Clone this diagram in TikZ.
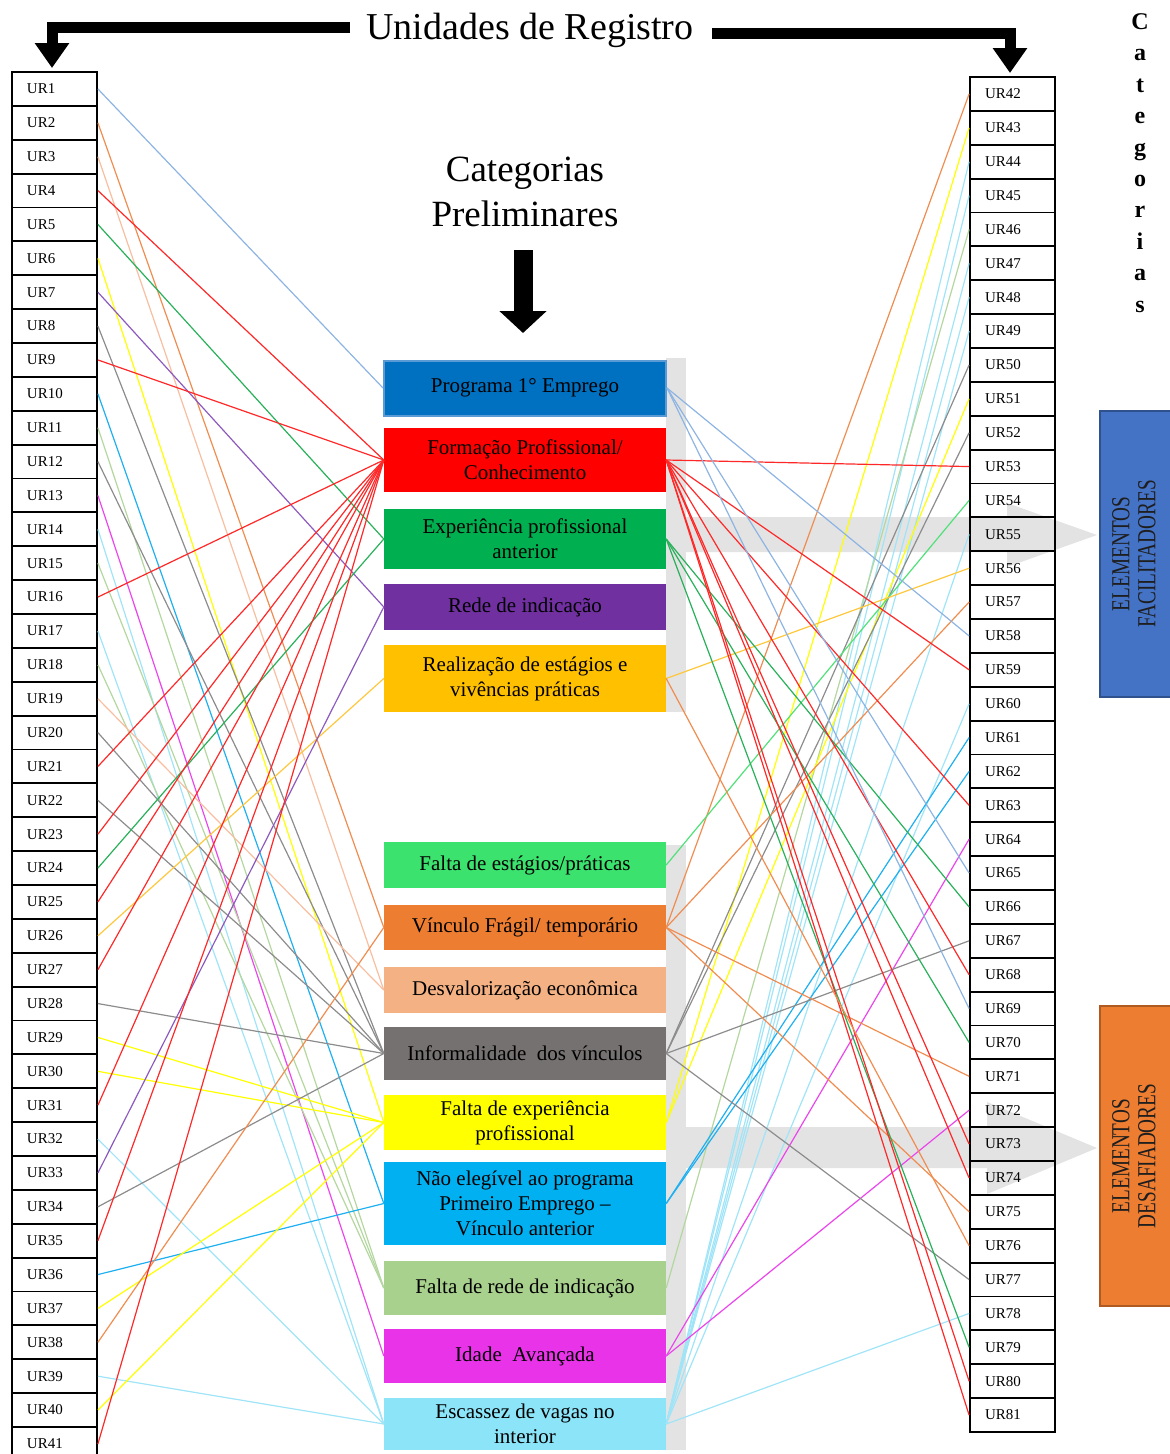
\documentclass[tikz,border=0pt]{standalone}
\usepackage{fontspec}
\setmainfont{Liberation Serif}
\newfontfamily\condfont[FakeStretch=0.74]{Liberation Serif}
\usetikzlibrary{arrows.meta}
\definecolor{f1}{RGB}{0,112,192}
\definecolor{b1}{RGB}{91,155,213}
\definecolor{f2}{RGB}{255,0,0}
\definecolor{f3}{RGB}{0,176,80}
\definecolor{f4}{RGB}{112,48,160}
\definecolor{f5}{RGB}{255,192,0}
\definecolor{f6}{RGB}{59,226,110}
\definecolor{f7}{RGB}{237,125,49}
\definecolor{f8}{RGB}{244,177,131}
\definecolor{f9}{RGB}{118,113,113}
\definecolor{f10}{RGB}{255,255,0}
\definecolor{f11}{RGB}{0,176,240}
\definecolor{f12}{RGB}{169,209,142}
\definecolor{f13}{RGB}{233,51,233}
\definecolor{f14}{RGB}{140,228,248}
\definecolor{l1}{RGB}{141,180,226}
\definecolor{l2}{RGB}{255,40,40}
\definecolor{l3}{RGB}{40,176,90}
\definecolor{l4}{RGB}{140,90,190}
\definecolor{l5}{RGB}{255,200,60}
\definecolor{l6}{RGB}{80,225,120}
\definecolor{l7}{RGB}{240,140,80}
\definecolor{l8}{RGB}{248,190,160}
\definecolor{l9}{RGB}{140,140,140}
\definecolor{l10}{RGB}{255,255,0}
\definecolor{l11}{RGB}{30,176,240}
\definecolor{l12}{RGB}{180,215,160}
\definecolor{l13}{RGB}{235,70,235}
\definecolor{l14}{RGB}{160,228,248}
\definecolor{bandgray}{RGB}{227,227,227}
\definecolor{facfill}{RGB}{68,114,196}
\definecolor{facdraw}{RGB}{47,82,143}
\definecolor{desfill}{RGB}{237,125,49}
\definecolor{desdraw}{RGB}{174,90,33}
\definecolor{eltxt}{RGB}{30,30,30}
\tikzset{
  urbox/.style={draw=black, line width=1.8pt, minimum width=85pt, minimum height=33.875pt,
    inner xsep=15pt, inner ysep=0pt, text width=55pt, align=left,
    font=\fontsize{15}{15}\selectfont},
  catbox/.style={minimum width=282pt, inner sep=0pt, align=center,
    font=\fontsize{21}{25}\selectfont, text=black},
  conn/.style={line width=1.2pt},
  tharrow/.style={line width=11pt, -{Triangle[width=33pt,length=25pt]}},
  elbox/.style={minimum width=75pt, line width=1.5pt},
  eltext/.style={rotate=90, align=center, font=\condfont\fontsize{26}{26}\selectfont, text=eltxt}
}
\begin{document}
\begin{tikzpicture}[x=1pt,y=-1pt]
\useasboundingbox (0,0) rectangle (1170,1454);
\clip (0,0) rectangle (1170,1454);

% grey backing bands and arrows
\fill[bandgray] (666,358) rectangle (686,712);
\fill[bandgray] (666,845) rectangle (686,1450);
\fill[bandgray] (666,517) -- (1007,517) -- (1007,503) -- (1097,535) -- (1007,567) -- (1007,552) -- (666,552) -- cycle;
\fill[bandgray] (666,1127) -- (987,1127) -- (987,1102) -- (1097,1148) -- (987,1194) -- (987,1168) -- (666,1168) -- cycle;

% titles
\node[font=\fontsize{38}{38}\selectfont] (title) at (530,30) {Unidades de Registro};
\node[font=\fontsize{37}{45}\selectfont, align=center] (prelim) at (525,192) {Categorias\\Preliminares};
\node[font=\bfseries\fontsize{24}{31.4}\selectfont, align=center] (catv) at (1140,163) {C\\a\\t\\e\\g\\o\\r\\i\\a\\s};

\coordinate (lstart) at (350,27.5);
\coordinate (ltip) at (52,68);
\coordinate (rstart) at (712,33);
\coordinate (rtip) at (1010,73);
\coordinate (cstart) at (523,250);
\coordinate (ctip) at (523,333);
\draw[tharrow] (lstart) -| (ltip);
\draw[tharrow] (rstart) -| (rtip);
\draw[line width=19pt, -{Triangle[width=46pt,length=22pt]}] (cstart) -- (ctip);

% UR columns
\foreach \k in {1,...,41}
  \node[urbox] (u\k) at (54.5,{72+(\k-0.5)*33.875}) {UR\k};
\foreach \k in {42,...,81}
  \node[urbox] (u\k) at (1012.5,{77+(\k-41.5)*33.875}) {UR\k};

% category boxes
\node[catbox, fill=f1, draw=b1, line width=2pt, minimum height=55pt] (c1) at (525,388) {Programa 1° Emprego};
\node[catbox, fill=f2, minimum height=64pt] (c2) at (525,460) {Formação Profissional/\\Conhecimento};
\node[catbox, fill=f3, minimum height=60pt] (c3) at (525,539) {Experiência profissional\\anterior};
\node[catbox, fill=f4, minimum height=46pt] (c4) at (525,607) {Rede de indicação};
\node[catbox, fill=f5, minimum height=67pt] (c5) at (525,678.5) {Realização de estágios e\\vivências práticas};
\node[catbox, fill=f6, minimum height=46pt] (c6) at (525,865) {Falta de estágios/práticas};
\node[catbox, fill=f7, minimum height=45pt] (c7) at (525,927.5) {Vínculo Frágil/ temporário};
\node[catbox, fill=f8, minimum height=46pt] (c8) at (525,990) {Desvalorização econômica};
\node[catbox, fill=f9, minimum height=53pt] (c9) at (525,1053.5) {Informalidade\enspace dos vínculos};
\node[catbox, fill=f10, minimum height=55pt] (c10) at (525,1122.5) {Falta de experiência\\profissional};
\node[catbox, fill=f11, minimum height=83pt] (c11) at (525,1203.5) {Não elegível ao programa\\Primeiro Emprego –\\Vínculo anterior};
\node[catbox, fill=f12, minimum height=54pt] (c12) at (525,1288) {Falta de rede de indicação};
\node[catbox, fill=f13, minimum height=54pt] (c13) at (525,1356) {Idade\enspace Avançada};
\node[catbox, fill=f14, minimum height=52pt] (c14) at (525,1424) {Escassez de vagas no\\interior};

% left connectors
\foreach \u/\c in {1/1,2/7,3/8,4/2,5/3,6/10,7/4,8/9,9/2,10/11,11/12,12/9,13/13,14/14,15/12,16/2,17/14,18/12,19/8,20/9,21/2,22/9,23/2,24/3,25/2,26/5,27/2,28/9,29/10,30/10,31/2,32/14,33/4,34/9,35/2,36/11,37/10,38/7,39/14,40/10,41/2}
  \draw[conn, draw=l\c] (u\u.east) -- (c\c.west);

% right connectors
\foreach \u/\c in {42/7,43/10,44/14,45/14,46/12,47/14,48/14,49/14,50/9,51/10,52/9,53/2,54/6,55/14,56/5,57/7,58/1,59/2,60/14,61/11,62/11,63/2,64/13,65/1,66/3,67/9,68/2,69/1,70/3,71/7,72/13,73/2,74/2,75/7,77/9,78/14,79/3,80/2,81/2}
  \draw[conn, draw=l\c] (c\c.east) -- (u\u.west);
\draw[conn, draw=l7] (c5.east) -- (u76.west);

% element boxes
\node[elbox, fill=facfill, draw=facdraw, minimum height=286pt] (fac) at (1137.5,554) {};
\node[eltext] (factxt) at (1134,554) {ELEMENTOS\\FACILITADORES};
\node[elbox, fill=desfill, draw=desdraw, minimum height=300pt] (des) at (1137.5,1156) {};
\node[eltext] (destxt) at (1134,1156) {ELEMENTOS\\DESAFIADORES};
\end{tikzpicture}
\end{document}
